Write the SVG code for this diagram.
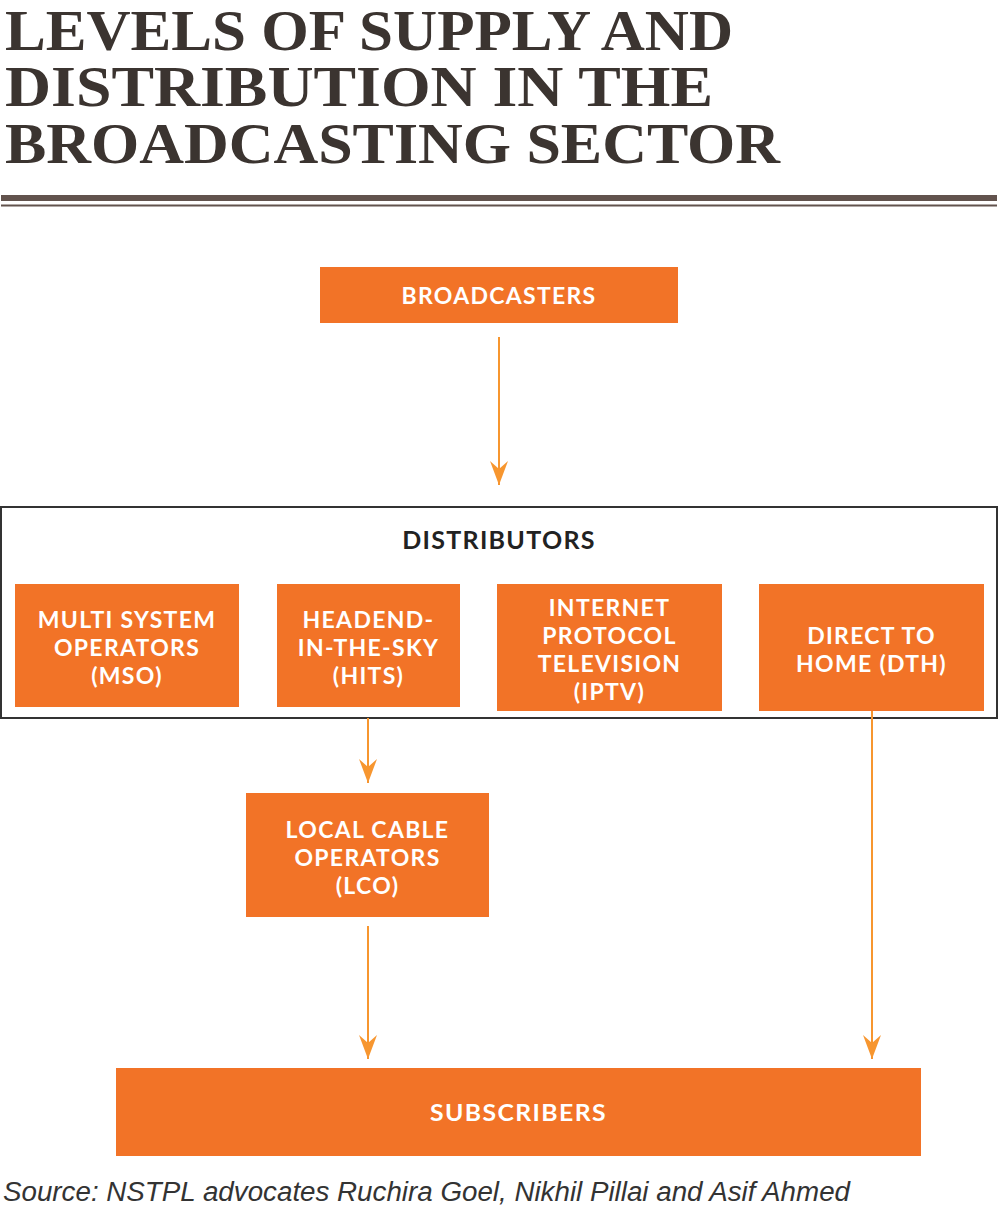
<svg xmlns="http://www.w3.org/2000/svg" width="998" height="1210" viewBox="0 0 998 1210">
<style>
.title{font-family:"Liberation Serif",serif;font-weight:bold;font-size:56px;fill:#3b3430}
.box{fill:#f27327}
.lbl{font-family:Lato,"Open Sans",sans-serif;font-weight:700;font-size:23px;fill:#ffffff;text-anchor:middle;letter-spacing:1.3px}
.dlbl{font-family:Lato,"Open Sans",sans-serif;font-weight:700;font-size:25px;fill:#222222;text-anchor:middle;letter-spacing:1.3px}
.conn{stroke:#f7962f;stroke-width:2;fill:none}
.src{font-family:"Liberation Sans",sans-serif;font-style:italic;font-size:27px;fill:#333333}
</style>
<defs>
<marker id="ah" viewBox="0 0 24 18" refX="24" refY="9" markerWidth="24" markerHeight="18" markerUnits="userSpaceOnUse" orient="auto">
<path d="M0,0 L8,9 L0,18 L24,9 Z" fill="#f7962f"/>
</marker>
</defs>
<g id="title">
<text class="title" x="5" y="50" textLength="728" lengthAdjust="spacingAndGlyphs">LEVELS OF SUPPLY AND</text>
<text class="title" x="5" y="106" textLength="708" lengthAdjust="spacingAndGlyphs">DISTRIBUTION IN THE</text>
<text class="title" x="5" y="163" textLength="775" lengthAdjust="spacingAndGlyphs">BROADCASTING SECTOR</text>
<rect x="1" y="195" width="996" height="6" fill="#62534d"/>
<rect x="1" y="204.5" width="996" height="2" fill="#62534d"/>
</g>
<g id="broadcasters">
<rect class="box" x="320" y="267" width="358" height="56"/>
<text class="lbl" x="499" y="304">BROADCASTERS</text>
</g>
<g id="distributors">
<rect x="1" y="507" width="996" height="211" fill="none" stroke="#333333" stroke-width="2"/>
<text class="dlbl" x="499" y="549">DISTRIBUTORS</text>
</g>
<g id="mso">
<rect class="box" x="15" y="584" width="224" height="123"/>
<text class="lbl" x="127" y="628">MULTI SYSTEM</text>
<text class="lbl" x="127" y="656">OPERATORS</text>
<text class="lbl" x="127" y="684">(MSO)</text>
</g>
<g id="hits">
<rect class="box" x="277" y="584" width="183" height="123"/>
<text class="lbl" x="368.5" y="628">HEADEND-</text>
<text class="lbl" x="368.5" y="656">IN-THE-SKY</text>
<text class="lbl" x="368.5" y="684">(HITS)</text>
</g>
<g id="iptv">
<rect class="box" x="497" y="584" width="225" height="127"/>
<text class="lbl" x="609.5" y="616">INTERNET</text>
<text class="lbl" x="609.5" y="644">PROTOCOL</text>
<text class="lbl" x="609.5" y="672">TELEVISION</text>
<text class="lbl" x="609.5" y="700">(IPTV)</text>
</g>
<g id="dth">
<rect class="box" x="759" y="584" width="225" height="127"/>
<text class="lbl" x="871.5" y="644">DIRECT TO</text>
<text class="lbl" x="871.5" y="672">HOME (DTH)</text>
</g>
<g id="lco">
<rect class="box" x="246" y="793" width="243" height="124"/>
<text class="lbl" x="367.5" y="838">LOCAL CABLE</text>
<text class="lbl" x="367.5" y="866">OPERATORS</text>
<text class="lbl" x="367.5" y="894">(LCO)</text>
</g>
<g id="subscribers">
<rect class="box" x="116" y="1068" width="805" height="88"/>
<text class="lbl" x="518.5" y="1121" textLength="177" lengthAdjust="spacingAndGlyphs">SUBSCRIBERS</text>
</g>
<g id="connectors">
<line class="conn" x1="499" y1="337" x2="499" y2="485" marker-end="url(#ah)"/>
<line class="conn" x1="368" y1="718" x2="368" y2="783" marker-end="url(#ah)"/>
<line class="conn" x1="368" y1="926" x2="368" y2="1059" marker-end="url(#ah)"/>
<line class="conn" x1="872" y1="711" x2="872" y2="1059" marker-end="url(#ah)"/>
</g>
<text class="src" x="3" y="1201" textLength="847" lengthAdjust="spacingAndGlyphs">Source: NSTPL advocates Ruchira Goel, Nikhil Pillai and Asif Ahmed</text>
</svg>
